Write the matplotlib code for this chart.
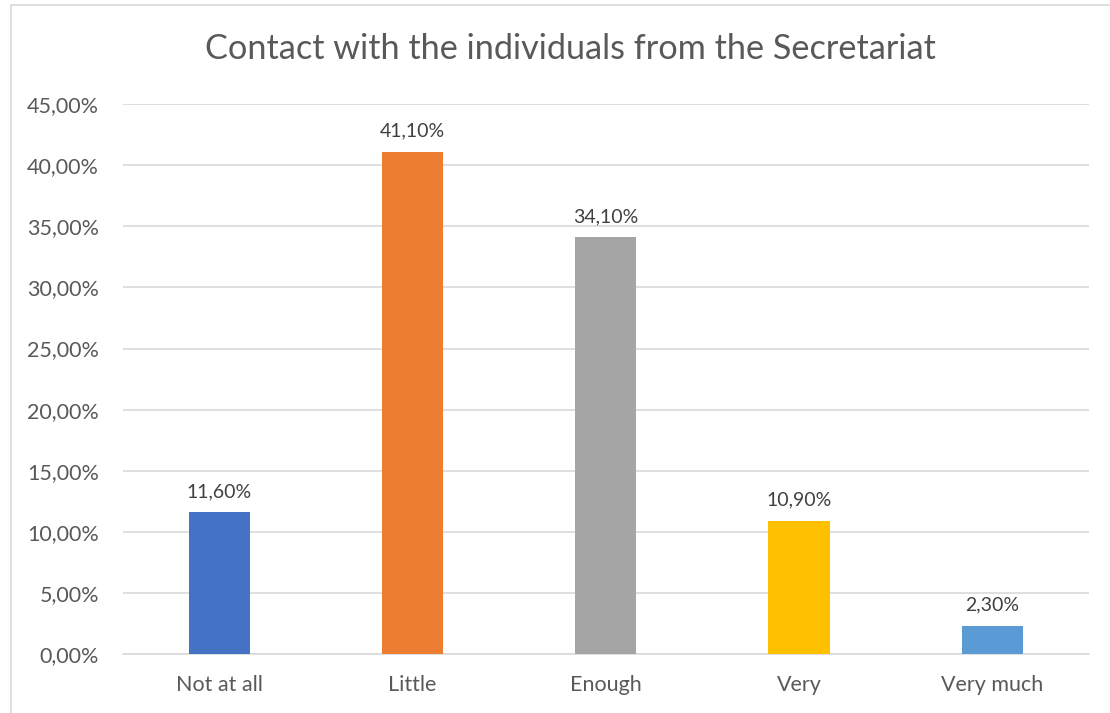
import matplotlib
matplotlib.use("Agg")
import matplotlib.pyplot as plt
from matplotlib import patches
from matplotlib.ticker import FuncFormatter

plt.rcParams['font.family'] = ['Lato', 'DejaVu Sans']

categories = ['Not at all', 'Little', 'Enough', 'Very', 'Very much']
values = [11.60, 41.10, 34.10, 10.90, 2.30]
colors = ['#4472C4', '#ED7D31', '#A5A5A5', '#FFC000', '#5B9BD5']
yticks = [0, 5, 10, 15, 20, 25, 30, 35, 40, 45]

fig = plt.figure(figsize=(11.10, 7.13), dpi=100)
ax = fig.add_axes([0.1105, 0.0827, 0.8705, 0.7713])

x = range(len(categories))
ax.bar(x, values, width=0.316, color=colors, zorder=3)
for xi, v in zip(x, values):
    ax.text(xi, v + 1.0, '{0:.2f}%'.format(v).replace('.', ','), ha='center', va='bottom',
            fontsize=14, color='#404040')

ax.set_xlim(-0.5, len(categories) - 0.5)
ax.set_ylim(0, 45)
ax.set_yticks(yticks)
ax.yaxis.set_major_formatter(FuncFormatter(lambda v, p: '{0:.2f}%'.format(v).replace('.', ',')))
ax.set_xticks(list(x))
ax.set_xticklabels(categories)
ax.tick_params(axis='both', length=0, labelsize=15.5, labelcolor='#595959')
ax.tick_params(axis='x', pad=15)
ax.tick_params(axis='y', pad=17)
ax.grid(axis='y', color='#D9D9D9', lw=1.2, zorder=0)
for side in ['left', 'right', 'top']:
    ax.spines[side].set_visible(False)
ax.spines['bottom'].set_color('#D9D9D9')
ax.spines['bottom'].set_linewidth(1.2)

fig.text(0.5135, 0.931, 'Contact with the individuals from the Secretariat', ha='center', va='center',
         fontsize=24.7, color='#595959')

# chart frame
fig.patches.append(patches.Rectangle((11 / 1110, -0.05), 1.1, 1 - 5 / 713 + 0.05, transform=fig.transFigure,
                                     fill=False, edgecolor='#D9D9D9', lw=1.2))

fig.savefig('out.png', dpi=100)
